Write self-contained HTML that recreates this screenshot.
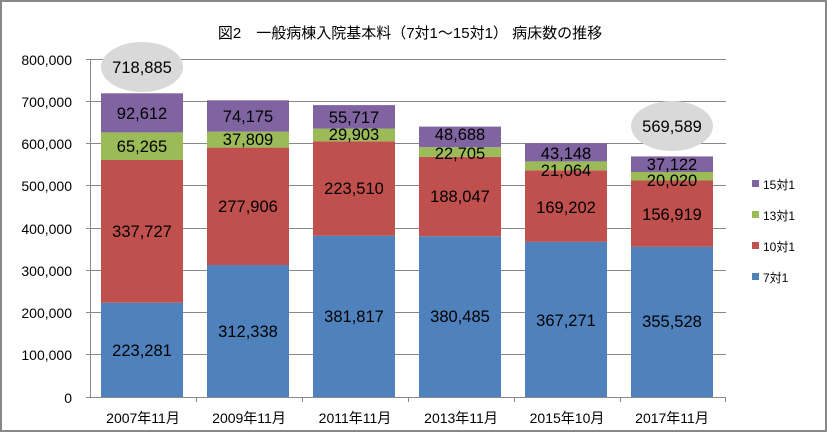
<!DOCTYPE html>
<html><head><meta charset="utf-8"><style>
html,body{margin:0;padding:0;background:#fff}
svg{display:block;font-family:"Liberation Sans","Noto Sans CJK JP",sans-serif}
</style></head><body>
<svg width="827" height="432" viewBox="0 0 827 432">
<rect x="1" y="1" width="825" height="430" fill="#fff" stroke="#888" stroke-width="2"/>
<text x="410" y="38" font-size="15" text-anchor="middle" fill="#000">図2　一般病棟入院基本料（7対1～15対1） 病床数の推移</text>
<g stroke="#888" stroke-width="1">
<line x1="86" y1="59.5" x2="726" y2="59.5"/>
<line x1="86" y1="101.5" x2="726" y2="101.5"/>
<line x1="86" y1="143.5" x2="726" y2="143.5"/>
<line x1="86" y1="185.5" x2="726" y2="185.5"/>
<line x1="86" y1="228.5" x2="726" y2="228.5"/>
<line x1="86" y1="270.5" x2="726" y2="270.5"/>
<line x1="86" y1="312.5" x2="726" y2="312.5"/>
<line x1="86" y1="354.5" x2="726" y2="354.5"/>
<line x1="86" y1="397.5" x2="726" y2="397.5"/>
<line x1="90.5" y1="59" x2="90.5" y2="397"/>
<line x1="196.5" y1="397" x2="196.5" y2="402"/>
<line x1="302.5" y1="397" x2="302.5" y2="402"/>
<line x1="408.5" y1="397" x2="408.5" y2="402"/>
<line x1="514.5" y1="397" x2="514.5" y2="402"/>
<line x1="620.5" y1="397" x2="620.5" y2="402"/>
<line x1="725.5" y1="397" x2="725.5" y2="402"/>
</g>
<g font-size="14" text-anchor="end" fill="#000">
<text x="72" y="65">800,000</text><text x="72" y="107">700,000</text><text x="72" y="149">600,000</text>
<text x="72" y="191">500,000</text><text x="72" y="234">400,000</text><text x="72" y="276">300,000</text>
<text x="72" y="318">200,000</text><text x="72" y="360">100,000</text><text x="72" y="403">0</text>
</g>
<g>
<rect x="101" y="302.7" width="82" height="94.3" fill="#4f81bd"/><rect x="101" y="160" width="82" height="142.7" fill="#c0504d"/><rect x="101" y="132.4" width="82" height="27.6" fill="#9bbb59"/><rect x="101" y="93.3" width="82" height="39.1" fill="#8064a2"/>
<rect x="207" y="265" width="82" height="132" fill="#4f81bd"/><rect x="207" y="147.6" width="82" height="117.4" fill="#c0504d"/><rect x="207" y="131.7" width="82" height="15.9" fill="#9bbb59"/><rect x="207" y="100.3" width="82" height="31.4" fill="#8064a2"/>
<rect x="313" y="235.7" width="82" height="161.3" fill="#4f81bd"/><rect x="313" y="141.3" width="82" height="94.4" fill="#c0504d"/><rect x="313" y="128.6" width="82" height="12.7" fill="#9bbb59"/><rect x="313" y="105.1" width="82" height="23.5" fill="#8064a2"/>
<rect x="419" y="236.2" width="82" height="160.8" fill="#4f81bd"/><rect x="419" y="156.8" width="82" height="79.4" fill="#c0504d"/><rect x="419" y="147.2" width="82" height="9.6" fill="#9bbb59"/><rect x="419" y="126.6" width="82" height="20.6" fill="#8064a2"/>
<rect x="525" y="241.8" width="82" height="155.2" fill="#4f81bd"/><rect x="525" y="170.3" width="82" height="71.5" fill="#c0504d"/><rect x="525" y="161.4" width="82" height="8.9" fill="#9bbb59"/><rect x="525" y="143.2" width="82" height="18.2" fill="#8064a2"/>
<rect x="631" y="246.8" width="82" height="150.2" fill="#4f81bd"/><rect x="631" y="180.5" width="82" height="66.3" fill="#c0504d"/><rect x="631" y="172" width="82" height="8.5" fill="#9bbb59"/><rect x="631" y="156.4" width="82" height="15.6" fill="#8064a2"/>
</g>
<g font-size="16.5" text-anchor="middle" fill="#000">
<text x="142" y="356">223,281</text><text x="142" y="237">337,727</text><text x="142" y="152">65,265</text><text x="142" y="119">92,612</text>
<text x="248" y="337">312,338</text><text x="248" y="212">277,906</text><text x="248" y="145">37,809</text><text x="248" y="122">74,175</text>
<text x="354" y="322">381,817</text><text x="354" y="194">223,510</text><text x="354" y="140">29,903</text><text x="354" y="123">55,717</text>
<text x="460" y="322">380,485</text><text x="460" y="202">188,047</text><text x="460" y="159">22,705</text><text x="460" y="140">48,688</text>
<text x="566" y="326">367,271</text><text x="566" y="213">169,202</text><text x="566" y="176">21,064</text><text x="566" y="159">43,148</text>
<text x="672" y="327">355,528</text><text x="672" y="220">156,919</text><text x="672" y="186">20,020</text><text x="672" y="170">37,122</text>
</g>
<ellipse cx="142" cy="67" rx="41" ry="25" fill="#d9d9d9"/>
<text x="142" y="73" font-size="16.5" text-anchor="middle" fill="#000">718,885</text>
<ellipse cx="672" cy="126" rx="41" ry="25" fill="#d9d9d9"/>
<text x="672" y="132" font-size="16.5" text-anchor="middle" fill="#000">569,589</text>
<g font-size="14" text-anchor="middle" fill="#000">
<text x="143" y="423">2007年11月</text><text x="249" y="423">2009年11月</text><text x="355" y="423">2011年11月</text>
<text x="461" y="423">2013年11月</text><text x="567" y="423">2015年10月</text><text x="672" y="423">2017年11月</text>
</g>
<g font-size="12" fill="#000">
<rect x="752" y="180" width="7" height="7" fill="#8064a2"/><text x="763" y="189">15対1</text>
<rect x="752" y="211" width="7" height="7" fill="#9bbb59"/><text x="763" y="220">13対1</text>
<rect x="752" y="242" width="7" height="7" fill="#c0504d"/><text x="763" y="251">10対1</text>
<rect x="752" y="273" width="7" height="7" fill="#4f81bd"/><text x="763" y="282">7対1</text>
</g>
</svg>
</body></html>
